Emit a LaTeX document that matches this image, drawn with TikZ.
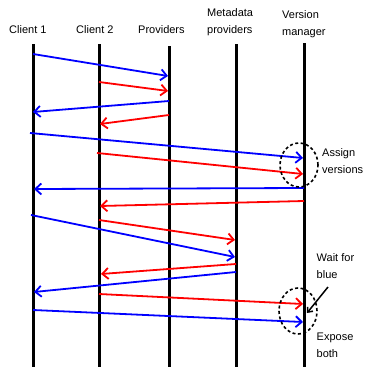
\documentclass[tikz,border=0pt]{standalone}
\usepackage{fontspec}
\setmainfont{Liberation Sans}
\usetikzlibrary{arrows.meta,shapes.geometric}
\begin{document}
\begin{tikzpicture}[x=1pt,y=-1pt,
  life/.style={line width=3pt},
  msg/.style={line width=1.8pt,-{Straight Barb[length=6pt,width=11pt,line width=1.8pt]}},
  bl/.style={msg,draw=blue},
  rd/.style={msg,draw=red},
  lab/.style={font=\fontsize{11}{17}\selectfont,align=left,anchor=base west,inner sep=0pt},
  ring/.style={draw,line width=1.6pt,dash pattern=on 3pt off 2.5pt},
  pointer/.style={line width=1.5pt,-{Straight Barb[length=4pt,width=7pt,line width=1.5pt]}}]
\useasboundingbox (0,0) rectangle (365,367);
% lifelines
\foreach \n/\x/\y in {c1/33/44, c2/99/44, pr/169/46, md/236/44, vm/304/43}{
  \coordinate (\n top) at (\x,\y);
  \coordinate (\n bot) at (\x,367);
  \draw[life] (\n top) -- (\n bot);
}
% headers
\node[lab] (t1) at (9,33) {Client 1};
\node[lab] (t2) at (76,33) {Client 2};
\node[lab] (t3) at (138,33) {Providers};
\node[lab] (t4) at (207,33) {Metadata\\providers};
\node[lab] (t5) at (282,35) {Version\\manager};
% messages
\foreach \n/\xa/\ya/\xb/\yb/\c in {
  1/33/54/168/76/bl, 2/99/82/168/91/rd, 3/169/101/33/112/bl, 4/169/115/100/124/rd,
  5/30/133/303/158/bl, 6/97/153/303/174/rd, 7/304/188/34/189/bl, 8/304/201/100/206/rd,
  10/99/220/235/240/rd, 9/31/215/235/257/bl, 11/236/264/101/274/rd, 12/236/272/34/292/bl,
  13/99/294/303/304/rd, 14/33/310/303/322/bl}{
  \coordinate (m\n a) at (\xa,\ya);
  \coordinate (m\n b) at (\xb,\yb);
  \draw[\c] (m\n a) -- (m\n b);
}
% rings
\node[ring,ellipse,minimum width=38pt,minimum height=44pt,inner sep=0pt] (r1) at (299,165) {};
\node[ring,ellipse,minimum width=38pt,minimum height=46pt,inner sep=0pt] (r2) at (298,311) {};
% notes
\node[lab] (n1) at (322,173) {Assign\\versions};
\node[lab] (n2) at (316.5,278) {Wait for\\blue};
\node[lab] (n3) at (316.5,357) {Expose\\both};
\coordinate (pa) at (328,287);
\coordinate (pb) at (307,313);
\draw[pointer] (pa) -- (pb);
\end{tikzpicture}
\end{document}
